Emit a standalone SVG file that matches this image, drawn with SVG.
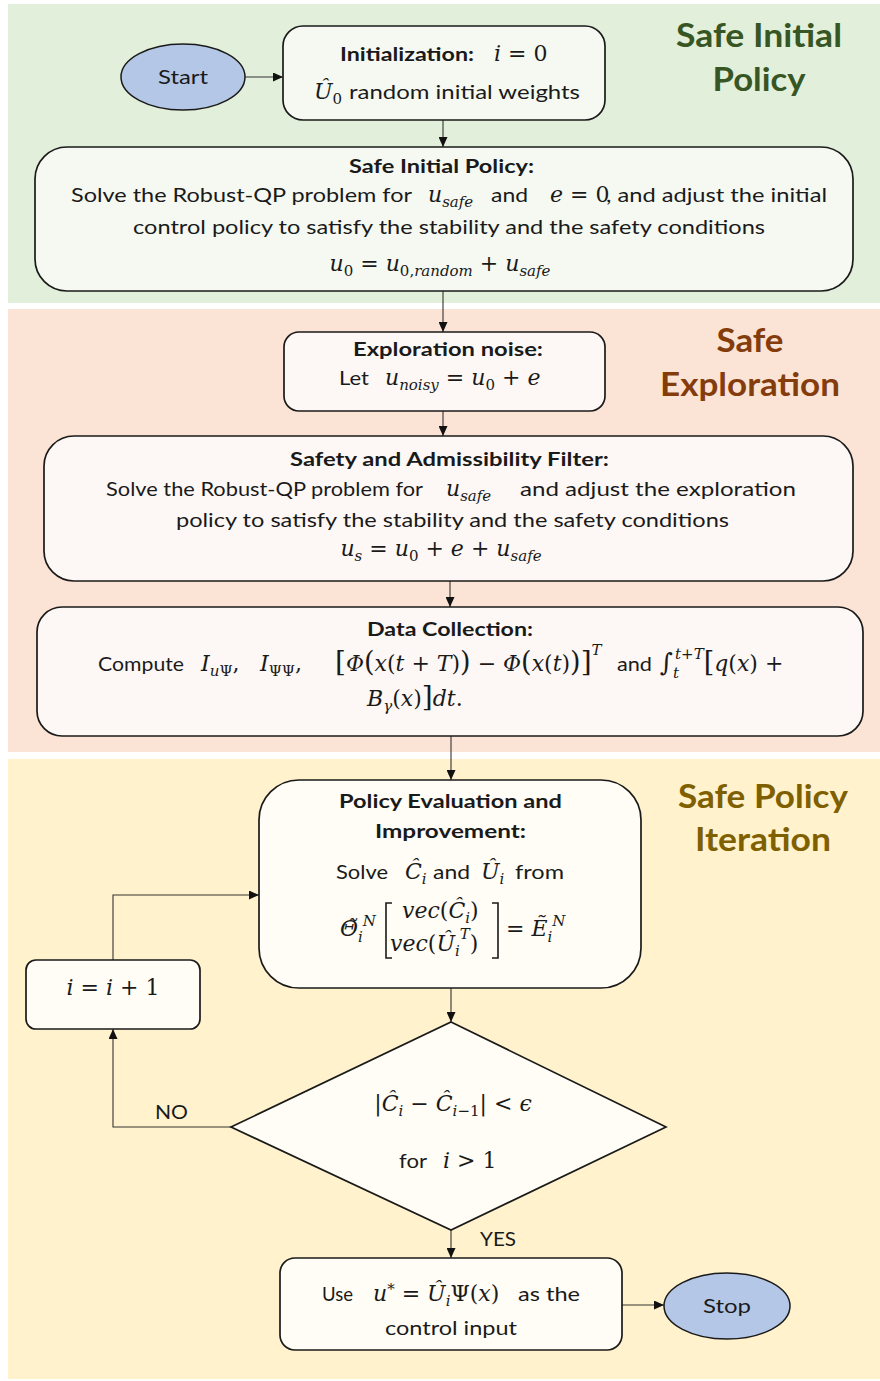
<svg xmlns="http://www.w3.org/2000/svg" width="880" height="1381" viewBox="0 0 880 1381">
<style>
.t{font-family:Lato,"Open Sans","Liberation Sans",sans-serif;font-size:19px;fill:#1a1a1a}
.b{font-family:Lato,"Open Sans","Liberation Sans",sans-serif;font-size:18px;font-weight:bold;fill:#1a1a1a}
.m{font-family:"DejaVu Serif","Liberation Serif",serif;font-style:italic;font-size:22px;fill:#1a1a1a}
.n{font-style:normal}
.s{font-size:15px}
.ttl{font-family:Lato,"Open Sans","Liberation Sans",sans-serif;font-size:32px;font-weight:bold;text-anchor:middle}
.box{stroke:#1a1a1a;stroke-width:1.7}
.g{fill:#f5f9f2}.o{fill:#fdf8f5}.y{fill:#fffdf5}
.oval{fill:#b4c7e7;stroke:#1a1a1a;stroke-width:1.5}
.c{fill:none;stroke:#333;stroke-width:1.1}
</style>
<defs>
<marker id="ah" markerUnits="userSpaceOnUse" markerWidth="11" markerHeight="9" refX="10" refY="4.5" orient="auto">
<path d="M0,0 L10,4.5 L0,9 z" fill="#111"/>
</marker>
</defs>
<g id="panels">
<rect x="8" y="4" width="872" height="299" fill="#e2efda"/>
<rect x="8" y="309" width="872" height="443" fill="#fbe4d5"/>
<rect x="8" y="759" width="872" height="620" fill="#fff2cc"/>
<text class="ttl" x="759" y="47" fill="#375623" textLength="166" lengthAdjust="spacingAndGlyphs">Safe Initial</text>
<text class="ttl" x="759" y="91" fill="#375623" textLength="93" lengthAdjust="spacingAndGlyphs">Policy</text>
<text class="ttl" x="750" y="352" fill="#843c0c" textLength="67" lengthAdjust="spacingAndGlyphs">Safe</text>
<text class="ttl" x="750" y="396" fill="#843c0c" textLength="180" lengthAdjust="spacingAndGlyphs">Exploration</text>
<text class="ttl" x="763" y="808" fill="#7f6000" textLength="170" lengthAdjust="spacingAndGlyphs">Safe Policy</text>
<text class="ttl" x="763" y="851" fill="#7f6000" textLength="136" lengthAdjust="spacingAndGlyphs">Iteration</text>
</g>
<g id="connectors">
<line class="c" x1="245" y1="77" x2="283" y2="77" marker-end="url(#ah)"/>
<line class="c" x1="443" y1="120" x2="443" y2="147" marker-end="url(#ah)"/>
<line class="c" x1="443" y1="291" x2="443" y2="332" marker-end="url(#ah)"/>
<line class="c" x1="443" y1="411" x2="443" y2="436" marker-end="url(#ah)"/>
<line class="c" x1="450" y1="581" x2="450" y2="607" marker-end="url(#ah)"/>
<line class="c" x1="451" y1="736" x2="451" y2="780" marker-end="url(#ah)"/>
<line class="c" x1="451" y1="988" x2="451" y2="1022" marker-end="url(#ah)"/>
<polyline class="c" points="231,1127 113,1127 113,1029" marker-end="url(#ah)"/>
<polyline class="c" points="113,960 113,895 259,895" marker-end="url(#ah)"/>
<line class="c" x1="451" y1="1230" x2="451" y2="1258" marker-end="url(#ah)"/>
<line class="c" x1="622" y1="1305" x2="664" y2="1305" marker-end="url(#ah)"/>
<text class="t" x="155" y="1119" font-size="18" textLength="33" lengthAdjust="spacingAndGlyphs">NO</text>
<text class="t" x="480" y="1246" font-size="18" textLength="36" lengthAdjust="spacingAndGlyphs">YES</text>
</g>
<g id="start">
<ellipse class="oval" cx="183" cy="77" rx="62" ry="33"/>
<text class="t" x="183" y="84" font-size="20" text-anchor="middle" textLength="50" lengthAdjust="spacingAndGlyphs">Start</text>
</g>
<g id="init">
<rect class="box g" x="283" y="26" width="322" height="94" rx="20"/>
<text class="b" x="340" y="61" textLength="134" lengthAdjust="spacingAndGlyphs">Initialization:</text>
<text class="m" x="494" y="61">i<tspan class="n"> = 0</tspan></text>
<text class="m" x="314" y="99">Û<tspan class="n s" baseline-shift="-5">0</tspan></text>
<text class="t" x="349" y="99" textLength="231" lengthAdjust="spacingAndGlyphs">random initial weights</text>
</g>
<g id="safe-initial">
<rect class="box g" x="35" y="147" width="818" height="144" rx="32"/>
<text class="b" x="349" y="173" textLength="185" lengthAdjust="spacingAndGlyphs">Safe Initial Policy:</text>
<text class="t" x="71" y="202" textLength="341" lengthAdjust="spacingAndGlyphs">Solve the Robust-QP problem for</text>
<text class="m" x="428" y="202">u<tspan class="s" baseline-shift="-5">safe</tspan></text>
<text class="t" x="491" y="202" textLength="37" lengthAdjust="spacingAndGlyphs">and</text>
<text class="m" x="550" y="202">e<tspan class="n"> = 0</tspan></text>
<text class="t" x="606" y="202" textLength="221" lengthAdjust="spacingAndGlyphs">, and adjust the initial</text>
<text class="t" x="133" y="234" textLength="632" lengthAdjust="spacingAndGlyphs">control policy to satisfy the stability and the safety conditions</text>
<text class="m" x="440" y="271" text-anchor="middle">u<tspan class="n s" baseline-shift="-5">0</tspan><tspan class="n"> = </tspan>u<tspan class="s" baseline-shift="-5"><tspan class="n">0,</tspan>random</tspan><tspan class="n">  + </tspan>u<tspan class="s" baseline-shift="-5">safe</tspan></text>
</g>
<g id="exploration">
<rect class="box o" x="284" y="332" width="321" height="79" rx="15"/>
<text class="b" x="353" y="356" textLength="190" lengthAdjust="spacingAndGlyphs">Exploration noise:</text>
<text class="t" x="339" y="385" textLength="30" lengthAdjust="spacingAndGlyphs">Let</text>
<text class="m" x="385" y="385">u<tspan class="s" baseline-shift="-5">noisy</tspan><tspan class="n"> = </tspan>u<tspan class="n s" baseline-shift="-5">0</tspan><tspan class="n"> + </tspan>e</text>
</g>
<g id="filter">
<rect class="box o" x="44" y="436" width="809" height="145" rx="30"/>
<text class="b" x="290" y="466" textLength="319" lengthAdjust="spacingAndGlyphs">Safety and Admissibility Filter:</text>
<text class="t" x="106" y="496" textLength="317" lengthAdjust="spacingAndGlyphs">Solve the Robust-QP problem for</text>
<text class="m" x="446" y="496">u<tspan class="s" baseline-shift="-5">safe</tspan></text>
<text class="t" x="520" y="496" textLength="276" lengthAdjust="spacingAndGlyphs">and adjust the exploration</text>
<text class="t" x="176" y="527" textLength="553" lengthAdjust="spacingAndGlyphs">policy to satisfy the stability and the safety conditions</text>
<text class="m" x="441" y="556" text-anchor="middle">u<tspan class="s" baseline-shift="-5">s</tspan><tspan class="n"> = </tspan>u<tspan class="n s" baseline-shift="-5">0</tspan><tspan class="n"> + </tspan>e<tspan class="n"> + </tspan>u<tspan class="s" baseline-shift="-5">safe</tspan></text>
</g>
<g id="data">
<rect class="box o" x="37" y="607" width="826" height="129" rx="25"/>
<text class="b" x="367" y="636" textLength="166" lengthAdjust="spacingAndGlyphs">Data Collection:</text>
<text class="t" x="98" y="671" textLength="86" lengthAdjust="spacingAndGlyphs">Compute</text>
<text class="m" x="201" y="671">I<tspan class="s" baseline-shift="-5">u<tspan class="n">Ψ</tspan></tspan><tspan class="n">,</tspan></text>
<text class="m" x="260" y="671">I<tspan class="n s" baseline-shift="-5">ΨΨ</tspan><tspan class="n">,</tspan></text>
<text class="m" x="335" y="671"><tspan class="n" font-size="28">[</tspan>Φ<tspan class="n" font-size="27">(</tspan>x<tspan class="n">(</tspan>t<tspan class="n"> + </tspan>T<tspan class="n">)</tspan><tspan class="n" font-size="27">)</tspan><tspan class="n"> − </tspan>Φ<tspan class="n" font-size="27">(</tspan>x<tspan class="n">(</tspan>t<tspan class="n">)</tspan><tspan class="n" font-size="27">)</tspan><tspan class="n" font-size="28">]</tspan><tspan class="s" baseline-shift="16">T</tspan></text>
<text class="t" x="617" y="671" textLength="35" lengthAdjust="spacingAndGlyphs">and</text>
<text class="m" x="660" y="671"><tspan class="n" font-size="25">∫</tspan><tspan class="s" baseline-shift="-7">t</tspan><tspan class="s" dx="-4" baseline-shift="12">t<tspan class="n">+</tspan>T</tspan><tspan class="n" font-size="27">[</tspan>q<tspan class="n">(</tspan>x<tspan class="n">) +</tspan></text>
<text class="m" x="367" y="706">B<tspan class="s" baseline-shift="-5">γ</tspan><tspan class="n">(</tspan>x<tspan class="n">)</tspan><tspan class="n" font-size="28">]</tspan>dt<tspan class="n">.</tspan></text>
</g>
<g id="policy">
<rect class="box y" x="259" y="780" width="382" height="208" rx="40"/>
<text class="b" x="339" y="808" font-size="19" textLength="223" lengthAdjust="spacingAndGlyphs">Policy Evaluation and</text>
<text class="b" x="375" y="838" font-size="19" textLength="151" lengthAdjust="spacingAndGlyphs">Improvement:</text>
<text class="t" x="336" y="879" font-size="20" textLength="52" lengthAdjust="spacingAndGlyphs">Solve</text>
<text class="m" x="405" y="879">Ĉ<tspan class="s" baseline-shift="-5">i</tspan></text>
<text class="t" x="433" y="879" font-size="20" textLength="37" lengthAdjust="spacingAndGlyphs">and</text>
<text class="m" x="481" y="879">Û<tspan class="s" baseline-shift="-5">i</tspan></text>
<text class="t" x="515" y="879" font-size="20" textLength="49" lengthAdjust="spacingAndGlyphs">from</text>
<text class="m" x="340" y="936">Θ̃<tspan class="s" baseline-shift="-6">i</tspan><tspan class="s" font-size="13" baseline-shift="10">N</tspan></text>
<path d="M392,903 H386 V958 H392 M492,903 H498 V958 H492" fill="none" stroke="#1a1a1a" stroke-width="1.6"/>
<text class="m" x="402" y="918">vec<tspan class="n">(</tspan>Ĉ<tspan class="s" baseline-shift="-5">i</tspan><tspan class="n">)</tspan></text>
<text class="m" x="390" y="951">vec<tspan class="n">(</tspan>Û<tspan class="s" baseline-shift="-5">i</tspan><tspan class="s" baseline-shift="12">T</tspan><tspan class="n">)</tspan></text>
<text class="m" x="506" y="936"><tspan class="n">= </tspan>Ẽ<tspan class="s" baseline-shift="-6">i</tspan><tspan class="s" font-size="13" baseline-shift="10">N</tspan></text>
</g>
<g id="increment">
<rect class="box y" x="26" y="960" width="174" height="69" rx="10"/>
<text class="m" x="113" y="995" font-size="24" text-anchor="middle">i<tspan class="n"> = </tspan>i<tspan class="n"> + 1</tspan></text>
</g>
<g id="decision">
<polygon class="box y" points="451,1022 666,1127 451,1230 231,1127"/>
<text class="m" x="453" y="1111" text-anchor="middle"><tspan class="n">|</tspan>Ĉ<tspan class="s" baseline-shift="-5">i</tspan><tspan class="n"> − </tspan>Ĉ<tspan class="s" baseline-shift="-5">i<tspan class="n">−1</tspan></tspan><tspan class="n">| &lt; </tspan>ϵ</text>
<text class="t" x="399" y="1168" textLength="28" lengthAdjust="spacingAndGlyphs">for</text>
<text class="m" x="443" y="1168">i<tspan class="n"> &gt; 1</tspan></text>
</g>
<g id="use">
<rect class="box y" x="280" y="1258" width="342" height="92" rx="15"/>
<text class="t" x="322" y="1301" font-size="20" textLength="31" lengthAdjust="spacingAndGlyphs">Use</text>
<text class="m" x="373" y="1301">u<tspan class="n s" baseline-shift="7">*</tspan><tspan class="n"> = </tspan>Û<tspan class="s" baseline-shift="-5">i</tspan><tspan class="n">Ψ(</tspan>x<tspan class="n">)</tspan></text>
<text class="t" x="518" y="1301" font-size="20" textLength="62" lengthAdjust="spacingAndGlyphs">as the</text>
<text class="t" x="385" y="1335" font-size="20" textLength="132" lengthAdjust="spacingAndGlyphs">control input</text>
</g>
<g id="stop">
<ellipse class="oval" cx="727" cy="1306" rx="63" ry="33"/>
<text class="t" x="727" y="1313" font-size="20" text-anchor="middle" textLength="48" lengthAdjust="spacingAndGlyphs">Stop</text>
</g>
</svg>
